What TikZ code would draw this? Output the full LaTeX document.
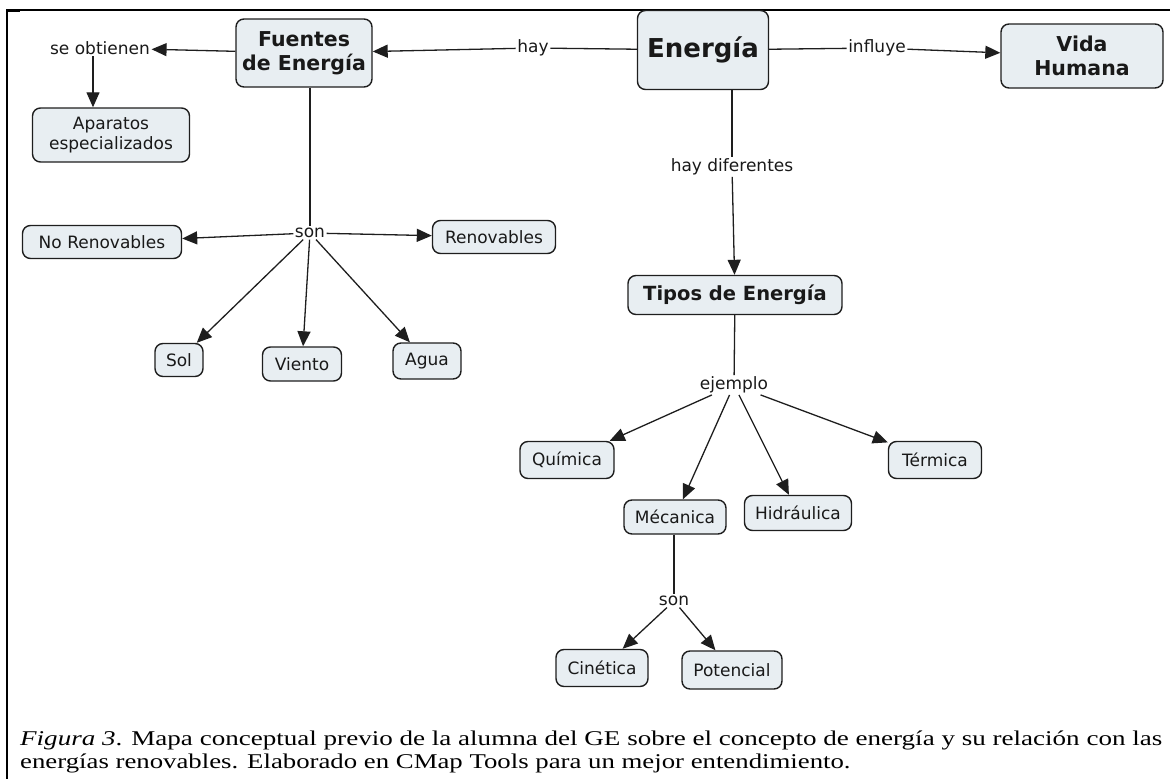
\documentclass[tikz,border=0pt]{standalone}
\usepackage{fontspec}
\setmainfont{Liberation Serif}
\newfontfamily\mapfont{DejaVu Sans}
\usetikzlibrary{arrows.meta}
\definecolor{boxfill}{HTML}{E8EEF2}
\definecolor{ink}{HTML}{1E1E1E}
\tikzset{
  concept/.style={draw=ink, fill=boxfill, rounded corners=8pt, line width=1.4pt,
    align=center, inner sep=2pt, text=black!90, font=\mapfont\fontsize{17}{20}\selectfont},
  bigconcept/.style={concept, font=\mapfont\bfseries\fontsize{20.5}{24}\selectfont},
  phrase/.style={inner sep=1.5pt, text=black!90, font=\mapfont\fontsize{17}{20}\selectfont},
  link/.style={draw=ink, line width=1.3pt},
  arr/.style={link, -{Triangle[length=15pt,width=13pt]}},
  caption/.style={anchor=base west, inner sep=0pt, font=\fontsize{21}{24}\selectfont},
}
\begin{document}
\begin{tikzpicture}[x=1pt,y=-1pt]
\useasboundingbox (0,0) rectangle (1170,779);
% frame lines
\draw[line width=1.6pt] (7,779) -- (7,10) -- (1170,10);
\draw[line width=3pt] (6,10.7) -- (20,10.7);

% concepts
\node[bigconcept, minimum width=136pt, minimum height=68pt] (fuentes) at (304,53) {Fuentes\\de Energía};
\node[concept, font=\mapfont\bfseries\fontsize{26}{30}\selectfont, minimum width=131pt, minimum height=79pt] (energia) at (703,50) {Energía};
\node[bigconcept, minimum width=162pt, minimum height=64pt] (vida) at (1082,56) {Vida\\Humana};
\node[concept, minimum width=157pt, minimum height=54pt] (aparatos) at (111,135) {Aparatos\\especializados};
\node[concept, minimum width=159pt, minimum height=33pt] (norenov) at (102,242) {No Renovables};
\node[concept, minimum width=123pt, minimum height=33pt] (renov) at (494,237) {Renovables};
\node[concept, minimum width=48pt, minimum height=33pt] (sol) at (179,360) {Sol};
\node[concept, minimum width=79pt, minimum height=34pt] (viento) at (302,364) {Viento};
\node[concept, minimum width=68pt, minimum height=36pt] (agua) at (427,361) {Agua};
\node[bigconcept, font=\mapfont\bfseries\fontsize{19.5}{23}\selectfont, minimum width=214pt, minimum height=39pt] (tipos) at (735,295) {Tipos de Energía};
\node[concept, minimum width=94pt, minimum height=37pt] (quimica) at (567,460) {Química};
\node[concept, minimum width=93pt, minimum height=37pt] (termica) at (935,460) {Térmica};
\node[concept, minimum width=102pt, minimum height=34pt] (mecanica) at (675,517) {Mécanica};
\node[concept, minimum width=107pt, minimum height=35pt] (hidraulica) at (798,513) {Hidráulica};
\node[concept, minimum width=92pt, minimum height=37pt] (cinetica) at (602,668) {Cinética};
\node[concept, minimum width=100pt, minimum height=38pt] (potencial) at (732,670) {Potencial};

% linking phrases
\node[phrase] (obt) at (100,48) {se obtienen};
\node[phrase] (hay) at (533,48) {hay};
\node[phrase] (influye) at (877,48) {influye};
\node[phrase] (hdif) at (732,167) {hay diferentes};
\node[phrase] (sonA) at (310,233) {son};
\node[phrase] (ejemplo) at (734,385) {ejemplo};
\node[phrase] (sonB) at (674,601) {son};

% connectors
\draw[arr] (fuentes) -- (obt);
\draw[arr] (obt.south -| 93,0) -- (93,0 |- aparatos.north);
\draw[link] (energia) -- (hay);
\draw[arr] (hay) -- (fuentes);
\draw[link] (energia) -- (influye);
\draw[arr] (influye) -- (vida);
\draw[link] (energia.south -| hdif) -- (hdif);
\draw[arr] (hdif) -- (tipos);
\draw[link] (fuentes.south -| sonA) -- (sonA);
\draw[arr] (sonA) -- (norenov);
\draw[arr] (sonA) -- (renov);
\draw[arr] (sonA) -- (sol);
\draw[arr] (sonA) -- (viento);
\draw[arr] (sonA) -- (agua);
\draw[link] (tipos) -- (ejemplo);
\draw[arr] (ejemplo) -- (quimica);
\draw[arr] (ejemplo) -- (mecanica);
\draw[arr] (ejemplo) -- (hidraulica);
\draw[arr] (ejemplo) -- (termica);
\draw[link] (mecanica.south -| sonB) -- (sonB);
\draw[arr] (sonB) -- (cinetica);
\draw[arr] (sonB) -- (potencial);

% caption, set wide across the frame
\node[caption] (cap1) at (20,745)
  {\resizebox{1142pt}{\height}{\textit{Figura 3}. Mapa conceptual previo de la alumna del GE sobre el concepto de energía y su relación con las}};
\node[caption] (cap2) at (20,768)
  {\scalebox{1.275}[1]{energías renovables. Elaborado en CMap Tools para un mejor entendimiento.}};
\end{tikzpicture}
\end{document}
